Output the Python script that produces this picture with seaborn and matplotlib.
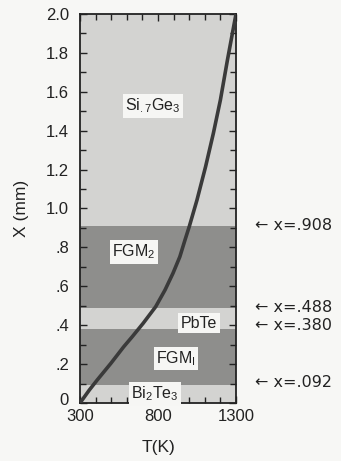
import matplotlib
matplotlib.use("Agg")
import matplotlib.pyplot as plt
import matplotlib.transforms as mtransforms
import seaborn as sns
import numpy as np
import pandas as pd
from matplotlib.ticker import MultipleLocator

# ---- data ----
temp_K = [300, 360, 410, 498, 580, 635, 705, 785, 845, 896, 940, 973, 1000,
          1050, 1105, 1155, 1200, 1245, 1300]
x_mm = [0.0, 0.067, 0.118, 0.204, 0.289, 0.341, 0.41, 0.495, 0.581, 0.667, 0.752,
        0.838, 0.906, 1.044, 1.215, 1.387, 1.558, 1.763, 2.0]

band_lo = [0.0, 0.092, 0.380, 0.488, 0.908]
band_hi = [0.092, 0.380, 0.488, 0.908, 2.0]
band_names = [r"Bi$_2$Te$_3$", r"FGM$_\mathsf{I}$", "PbTe", r"FGM$_2$", r"Si$_{.7}$Ge$_3$"]
band_dark = [False, True, False, True, False]
label_T = [780, 915, 1063, 646, 768]
label_X = [0.046, 0.23, 0.41, 0.776, 1.527]

boundary_text = ["← x=.908", "← x=.488", "← x=.380", "← x=.092"]
boundary_text_y = [0.912, 0.492, 0.396, 0.106]

ytick_vals = [0, 0.2, 0.4, 0.6, 0.8, 1.0, 1.2, 1.4, 1.6, 1.8, 2.0]
ytick_labels = ["0", ".2", ".4", ".6", ".8", "1.0", "1.2", "1.4", "1.6", "1.8", "2.0"]
xtick_vals = [300, 800, 1300]

sns.set_theme(style="white")
plt.rcParams["font.family"] = ["Liberation Sans", "DejaVu Sans"]
plt.rcParams["mathtext.fontset"] = "custom"
plt.rcParams["mathtext.rm"] = "Liberation Sans"
plt.rcParams["mathtext.it"] = "Liberation Sans"
plt.rcParams["mathtext.sf"] = "Liberation Sans"

fig = plt.figure(figsize=(3.41, 4.61), dpi=100)
fig.patch.set_facecolor("#f7f7f5")
ax = fig.add_axes([80 / 341, 58 / 461, 156 / 341, 389 / 461])

light = "#d3d3d1"
dark = "#8e8e8c"
for lo, hi, dk in zip(band_lo, band_hi, band_dark):
    ax.axhspan(lo, hi, color=dark if dk else light, lw=0, zorder=0)

df = pd.DataFrame({"T": temp_K, "X": x_mm})
sns.lineplot(data=df, x="T", y="X", ax=ax, color="#3a3a3a", lw=2.6, zorder=3,
             solid_capstyle="butt", solid_joinstyle="round")

for name, tx, ty in zip(band_names, label_T, label_X):
    ax.text(tx, ty, name, ha="center", va="center", fontsize=11.5, color="#222222",
            zorder=4,
            bbox=dict(boxstyle="square,pad=0.15", fc="#f6f6f4", ec="none"))

for yv, txt in zip(boundary_text_y, boundary_text):
    ax.text(1.12, yv, txt, transform=ax.get_yaxis_transform(), ha="left", va="center",
            fontsize=11.5, family=["DejaVu Sans"], color="#222222", clip_on=False)

ax.set_xlim(300, 1300)
ax.set_ylim(0, 2.0)
ax.set_xticks(xtick_vals)
ax.set_xticklabels([str(v) for v in xtick_vals])
ax.set_yticks(ytick_vals)
ax.set_yticklabels(ytick_labels)
ax.xaxis.set_minor_locator(MultipleLocator(100))
ax.yaxis.set_minor_locator(MultipleLocator(0.1))
ax.tick_params(which="both", direction="in", top=True, right=True, bottom=True, left=True,
               color="#222222", width=1.0, labelsize=12, labelcolor="#222222")
ax.tick_params(which="major", length=5)
ax.tick_params(axis="y", which="major", pad=8)
ax.tick_params(axis="x", which="major", pad=4)
ax.tick_params(which="minor", length=4)
for s in ax.spines.values():
    s.set_visible(True)
    s.set_color("#222222")
    s.set_linewidth(1.3)

# nudge the "0" tick label up a little so it clears the "300" label
zero_lbl = ax.get_yticklabels()[0]
zero_lbl.set_transform(zero_lbl.get_transform()
                       + mtransforms.ScaledTranslation(0, 3 / 72, fig.dpi_scale_trans))

ax.set_xlabel("T(K)", fontsize=12.5, color="#222222", labelpad=12)
ax.set_ylabel("X (mm)", fontsize=12.5, color="#222222", labelpad=12)

fig.savefig("out.png", dpi=100, facecolor=fig.get_facecolor())
